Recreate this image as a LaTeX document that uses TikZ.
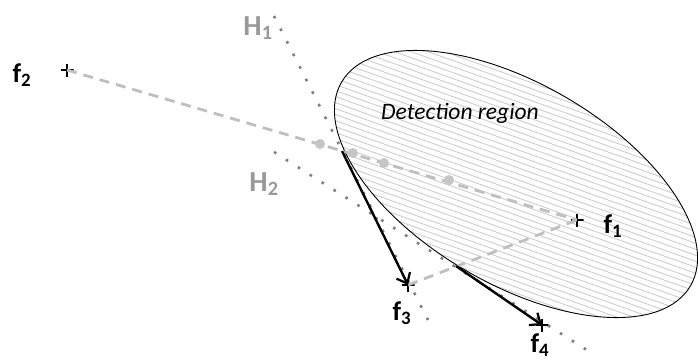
\documentclass[tikz,border=0pt]{standalone}
\usepackage{fontspec}
\setmainfont{Carlito}
\usetikzlibrary{arrows.meta}

\begin{document}
\begin{tikzpicture}[
  x=1pt,y=-1pt,
  plus/.style={minimum size=13pt,inner sep=0pt,
    path picture={\draw[black,line width=1.2pt]
      (path picture bounding box.north) -- (path picture bounding box.south)
      (path picture bounding box.west) -- (path picture bounding box.east);}},
  hit/.style={circle,fill=gray!45,inner sep=0pt,minimum size=10pt},
  link/.style={gray!50,line width=2.8pt,dash pattern=on 10pt off 7pt},
  plane/.style={black!50,line width=2.6pt,dash pattern=on 2.6pt off 11.5pt},
  move/.style={line width=2.4pt,-{Straight Barb[length=9pt,width=15pt,line width=2.2pt]}},
  lbl/.style={font=\fontsize{27}{27}\selectfont\bfseries},
  hlbl/.style={font=\fontsize{29}{29}\selectfont\bfseries,text=black!40}
]
  \useasboundingbox (0,0) rectangle (698,362);

  % detection region
  \begin{scope}
    \clip[rotate around={-30.3:(516,184)}] (516,184) ellipse [x radius=202,y radius=100];
    \foreach \k in {-60,...,75}
      \draw[gray!40,line width=.9pt] (300,6*\k) -- ++(420,150);
  \end{scope}
  \draw[line width=.9pt,rotate around={-30.3:(516,184)}] (516,184) ellipse [x radius=202,y radius=100];
  \node[font=\fontsize{23.5}{23.5}\selectfont\itshape] (region) at (460,113) {Detection region};

  % points
  \node[plus] (f1) at (577,220) {};
  \node[plus] (f2) at (67,70) {};
  \node[plus] (f3) at (408,285) {};
  \node[plus] (f4) at (542,325) {};
  \coordinate (t1) at (342,151);
  \coordinate (t2) at (456,266);

  % planes
  \coordinate (h1a) at (274,16);
  \coordinate (h1b) at (428,320);
  \coordinate (h2a) at (274,152);
  \coordinate (h2b) at (590,352);
  \draw[plane] (h1a) -- (h1b);
  \draw[plane] (h2a) -- (h2b);

  % links
  \draw[link] (f2.center) -- (f1.center);
  \draw[link] (f3.center) -- (f1.center);
  \node[hit] (d1) at (320,144) {};
  \node[hit] (d2) at (353,153) {};
  \node[hit] (d3) at (384,163) {};
  \node[hit] (d4) at (449,180) {};

  % moves
  \draw[move] (t1) -- (f3.center);
  \draw[move] (t2) -- (f4.center);

  \node[lbl] (l1) at (613,226) {f\textsubscript{1}};
  \node[lbl] (l2) at (22,75) {f\textsubscript{2}};
  \node[lbl] (l3) at (402,313) {f\textsubscript{3}};
  \node[lbl] (l4) at (540,345) {f\textsubscript{4}};
  \node[hlbl] (lh1) at (258,28) {H\textsubscript{1}};
  \node[hlbl] (lh2) at (264,184) {H\textsubscript{2}};
\end{tikzpicture}
\end{document}
